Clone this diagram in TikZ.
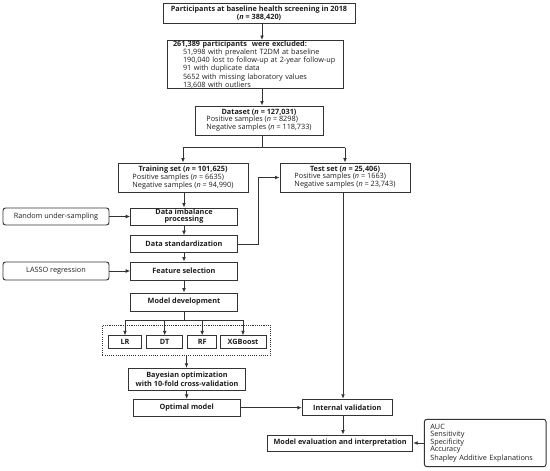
\documentclass[tikz,border=0pt]{standalone}
\usepackage{fontspec}
\setmainfont{Open Sans}
\usetikzlibrary{arrows.meta,positioning}
\definecolor{ln}{HTML}{333333}
\definecolor{tx}{HTML}{1E1E1E}
\begin{document}
\begin{tikzpicture}[x=1pt,y=-1pt,
  font=\fontsize{7.3}{7.15}\selectfont, text=tx,
  box/.style={draw=ln, line width=0.95pt, inner sep=0pt, align=center},
  rbox/.style={box, rounded corners=2.5pt},
  dotbox/.style={draw=ln, line width=0.95pt, dash pattern=on 1.1pt off 1.1pt, inner sep=0pt},
  ln/.style={draw=ln, line width=0.85pt},
  arr/.style={ln, -{Latex[length=4.5pt,width=3.8pt]}}]
\useasboundingbox (0,0) rectangle (550,471);
\coordinate (ax) at (262,0);
\coordinate (vx) at (343,0);
\coordinate (jx) at (258,0);

\node[box, minimum width=192, minimum height=19.5] (top) at (259,13.3)
  {\textbf{Participants at baseline health screening in 2018}\\\textbf{(\textit{n} = 388,420)}};
\node[box, align=left, text width=164, inner xsep=6pt, minimum height=47] (excl) at (255,64.5)
  {\textbf{261,389 participants\ \ were excluded:}\\
   \hspace*{10pt}51,998 with prevalent T2DM at baseline\\
   \hspace*{10pt}190,040 lost to follow-up at 2-year follow-up\\
   \hspace*{10pt}91 with duplicate data\\
   \hspace*{10pt}5652 with missing laboratory values\\
   \hspace*{10pt}13,608 with outliers};
\node[box, minimum width=128, minimum height=29] (data) at (259,120.5)
  {\textbf{Dataset (\textit{n} = 127,031)}\\
   \begin{tabular}[t]{@{}l@{}}Positive samples (\textit{n} = 8298)\\Negative samples (\textit{n} = 118,733)\end{tabular}};
\node[box, minimum width=130, minimum height=29] (train) at (183,177.5)
  {\textbf{Training set (\textit{n} = 101,625)}\\
   \begin{tabular}[t]{@{}l@{}}Positive samples (\textit{n} = 6635)\\Negative samples (\textit{n} = 94,990)\end{tabular}};
\node[box, minimum width=130, minimum height=29] (test) at (345,177.5)
  {\textbf{Test set (\textit{n} = 25,406)}\\
   \begin{tabular}[t]{@{}l@{}}Positive samples (\textit{n} = 1663)\\Negative samples (\textit{n} = 23,743)\end{tabular}};

\node[rbox, minimum width=106, minimum height=17] (rus) at (56,216.5) {Random under-sampling};
\node[box, minimum width=106.6, minimum height=17] (imb) at (184,216.5) {\textbf{Data imbalance}\\\textbf{processing}};
\node[box, minimum width=106.6, minimum height=16.6] (std) at (184,244) {\textbf{Data standardization}};
\node[rbox, minimum width=106, minimum height=18] (lasso) at (56,271) {LASSO regression};
\node[box, minimum width=106.6, minimum height=18] (feat) at (184,271) {\textbf{Feature selection}};
\node[box, minimum width=106.6, minimum height=18] (dev) at (184,302) {\textbf{Model development}};

\node[dotbox, minimum width=168.4, minimum height=30] (grp) at (186.5,340) {};
\node[box, minimum width=33.4, minimum height=12.3] (lr) at (125,342) {\textbf{LR}};
\node[box, minimum width=36, minimum height=12.3] (dt) at (164.7,342) {\textbf{DT}};
\node[box, minimum width=29, minimum height=12.3] (rf) at (202.2,342) {\textbf{RF}};
\node[box, minimum width=46, minimum height=12.3] (xg) at (243,342) {\textbf{XGBoost}};

\node[box, minimum width=117.4, minimum height=21.7] (bay) at (187,379.2)
  {\textbf{Bayesian optimization}\\\textbf{with 10-fold cross-validation}};
\node[box, minimum width=106.7, minimum height=16.7] (opt) at (186.7,407.7) {\textbf{Optimal model}};
\node[box, minimum width=90, minimum height=16.4] (intv) at (347.3,407.5) {\textbf{Internal validation}};
\node[box, minimum width=145, minimum height=16] (eval) at (340.2,443) {\textbf{Model evaluation and interpretation}};
\node[rbox, align=left, text width=109.7, inner xsep=6pt, minimum height=47.4] (met) at (485.2,443)
  {AUC\\Sensitivity\\Specificity\\Accuracy\\Shapley Additive Explanations};

% connectors
\draw[arr] (top.south -| ax) -- (excl.north -| ax);
\draw[arr] (excl.south -| ax) -- (data.north -| ax);
\coordinate (sp) at (262,147.7);
\draw[ln] (data.south -| ax) -- (sp);
\draw[ln] (train.north |- sp) -- (test.north |- sp);
\draw[arr] (train.north |- sp) -- (train.north);
\draw[arr] (test.north |- sp) -- (test.north);

\draw[arr] (train.south -| imb.north) -- (imb.north);
\draw[arr] (rus.east) -- (imb.west);
\draw[arr] (imb.south) -- (std.north);
\draw[arr] (std.east) -- (std.east -| jx) -- (jx |- test.west) -- (test.west);
\draw[arr] (std.south) -- (feat.north);
\draw[arr] (lasso.east) -- (feat.west);
\draw[arr] (feat.south) -- (dev.north);

\coordinate (br) at (184,320);
\draw[ln] (dev.south) -- (br);
\draw[ln] (lr.north |- br) -- (xg.north |- br);
\draw[arr] (lr.north |- br) -- (lr.north);
\draw[arr] (dt.north |- br) -- (dt.north);
\draw[arr] (rf.north |- br) -- (rf.north);
\draw[arr] (xg.north |- br) -- (xg.north);

\draw[arr] (grp.south) -- (bay.north -| grp.south);
\draw[arr] (bay.south -| opt.north) -- (opt.north);
\draw[arr] (opt.east) -- (opt.east -| intv.west);
\draw[arr] (test.south -| vx) -- (intv.north -| vx);
\draw[arr] (intv.south -| vx) -- (eval.north -| vx);
\draw[arr] (met.west) -- (eval.east);
\end{tikzpicture}
\end{document}
